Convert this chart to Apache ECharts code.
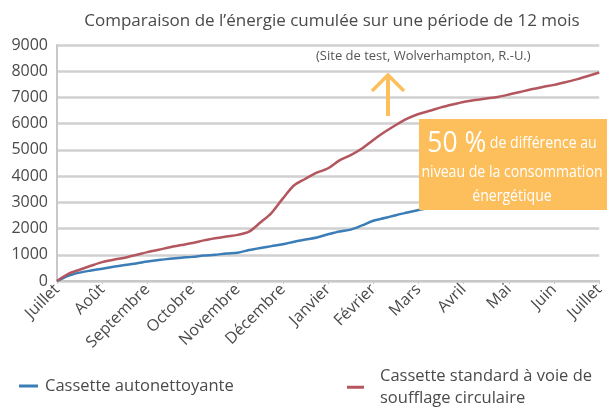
<!DOCTYPE html>
<html>
<head>
<meta charset="utf-8">
<script src="https://cdn.jsdelivr.net/npm/echarts@6/dist/echarts.min.js"></script>
<style>
  html, body { margin: 0; padding: 0; background: #fff; }
  #chart { width: 607px; height: 417px; }
</style>
</head>
<body>
<div id="chart"></div>
<script>
// Month names along the x axis (July to July)
const months = ['Juillet', 'Août', 'Septembre', 'Octobre', 'Novembre', 'Décembre',
  'Janvier', 'Février', 'Mars', 'Avril', 'Mai', 'Juin', 'Juillet'];
// Four readings per month
const stepsPerMonth = 4;

// Cumulative energy, self-cleaning cassette
const autonettoyante = [
  0, 200, 320, 400, 470, 540, 610, 670, 740, 800, 850, 890,
  920, 970, 1000, 1050, 1080, 1180, 1260, 1330, 1400, 1500, 1580, 1660,
  1780, 1890, 1960, 2120, 2300, 2400, 2510, 2610, 2710, 2790, 2900, 3000,
  3080, 3180, 3280, 3380, 3460, 3550, 3630, 3700, 3780, 3840, 3900, 3960,
  4000
];
// Cumulative energy, standard circular-airflow cassette
const standard = [
  0, 270, 430, 580, 720, 810, 890, 990, 1100, 1190, 1290, 1370,
  1450, 1550, 1630, 1700, 1760, 1880, 2230, 2600, 3150, 3650, 3900, 4130,
  4300, 4600, 4800, 5050, 5380, 5680, 5950, 6190, 6370, 6490, 6620, 6730,
  6830, 6900, 6960, 7020, 7110, 7210, 7310, 7400, 7480, 7580, 7690, 7820,
  7950
];

const yTicks = { min: 0, max: 9000, interval: 1000 };

// x position in months for each reading
const toPairs = arr => arr.map((v, i) => [i / stepsPerMonth, v]);

const FONT = '"Open Sans", "Noto Sans", sans-serif';
const TXT = '#4a4a4a';
const BLUE = '#3b7db6';
const RED = '#b3565e';
const ORANGE = '#fdbf5b';

const chart = echarts.init(document.getElementById('chart'), null, { renderer: 'canvas' });
chart.setOption({
  animation: false,
  textStyle: { fontFamily: FONT },
  title: {
    text: 'Comparaison de l\u2019énergie cumulée sur une période de 12 mois',
    left: 327, top: 8, textAlign: 'center',
    textStyle: { fontSize: 17, fontWeight: 'normal', color: TXT, fontFamily: FONT }
  },
  grid: { left: 57, right: 7, top: 45, bottom: 136, containLabel: false },
  xAxis: {
    type: 'value',
    min: 0, max: months.length - 1, interval: 1,
    axisLine: { lineStyle: { color: '#c8c8c8', width: 2 } },
    axisTick: { show: true, length: 3, lineStyle: { color: '#c8c8c8' } },
    axisLabel: {
      rotate: 45, color: TXT, fontSize: 16, fontFamily: FONT, margin: 6,
      showMinLabel: true, showMaxLabel: true,
      formatter: v => months[Math.round(v)]
    },
    splitLine: { show: false }
  },
  yAxis: {
    type: 'value',
    min: yTicks.min, max: yTicks.max, interval: yTicks.interval,
    axisLine: { show: true, lineStyle: { color: '#c8c8c8', width: 2 } },
    axisTick: { show: false },
    axisLabel: { color: TXT, fontSize: 16, fontFamily: FONT, margin: 9, formatter: v => String(v) },
    splitLine: { lineStyle: { color: '#d0d0d0', width: 2.5 } }
  },
  legend: [
    {
      data: ['Cassette autonettoyante'],
      left: 14, top: 370, icon: 'rect', itemWidth: 19, itemHeight: 3,
      textStyle: { color: TXT, fontSize: 16.5, fontFamily: FONT, lineHeight: 22, padding: [0, 0, 0, 2] }
    },
    {
      data: ['Cassette standard à voie de\nsoufflage circulaire'],
      left: 342, top: 350, icon: 'rect', itemWidth: 17, itemHeight: 3,
      textStyle: { color: TXT, fontSize: 16.5, fontFamily: FONT, lineHeight: 21.5, padding: [21.5, 0, 0, 11] }
    }
  ],
  series: [
    {
      name: 'Cassette autonettoyante',
      type: 'line', data: toPairs(autonettoyante), smooth: 0.3,
      symbol: 'none', z: 3,
      lineStyle: { color: BLUE, width: 2.5 }, itemStyle: { color: BLUE }
    },
    {
      name: 'Cassette standard à voie de\nsoufflage circulaire',
      type: 'line', data: toPairs(standard), smooth: 0.3,
      symbol: 'none', z: 3,
      lineStyle: { color: RED, width: 2.5 }, itemStyle: { color: RED }
    }
  ],
  graphic: [
    {
      type: 'text', left: 316, top: 50, z: 10,
      style: { text: '(Site de test, Wolverhampton, R.-U.)', fill: '#555', fontSize: 13, fontFamily: FONT }
    },
    {
      type: 'polyline', z: 10,
      shape: { points: [[388, 74], [388, 116]] },
      style: { stroke: ORANGE, lineWidth: 4, fill: null }
    },
    {
      type: 'polyline', z: 10,
      shape: { points: [[372, 91], [388, 75], [404, 91]] },
      style: { stroke: ORANGE, lineWidth: 3.5, fill: null }
    },
    {
      type: 'rect', z: 10,
      shape: { x: 419, y: 119, width: 188, height: 91 },
      style: { fill: ORANGE }
    },
    {
      // condensed white caption inside the orange box
      type: 'text', z: 11, x: 512, y: 127, scaleX: 0.88, originX: 0,
      style: {
        text: '{big|50 %}{mid| de différence au}\n{mid|niveau de la consommation}\n{mid|énergétique}',
        align: 'center', fill: '#fff', fontFamily: FONT,
        rich: {
          big: { fontSize: 30, fill: '#fff', fontFamily: FONT, lineHeight: 33 },
          mid: { fontSize: 16, fill: '#fff', fontFamily: FONT, lineHeight: 24 }
        }
      }
    }
  ]
});
</script>
</body>
</html>
